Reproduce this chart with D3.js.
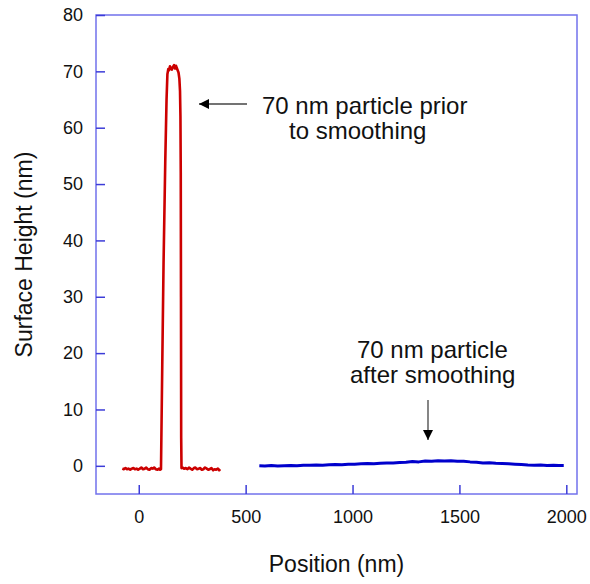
<!DOCTYPE html>
<html>
<head>
<meta charset="utf-8">
<script src="https://cdn.jsdelivr.net/npm/d3@7"></script>
<style>
  body { margin: 0; background: #fff; overflow: hidden; }
  text { font-family: Arial, "Liberation Sans", sans-serif; fill: #111; }
</style>
</head>
<body>
<svg id="chart" width="590" height="584"></svg>
<script>
// Profil avant lissage (rouge)
const redX = [-77, -70, -62, -55, -48, -40, -33, -25, -18, -10, -3, 5, 12, 20, 28, 35, 42, 50, 58, 65, 72, 80, 88, 95, 100, 104,
  110, 116, 124, 130, 134, 138, 142, 146, 150, 155, 160, 165, 170, 174, 178, 182, 186, 190, 193, 195, 196.5, 197.5, 198.5, 200,
  205, 212, 220, 228, 235, 242, 250, 258, 265, 272, 280, 288, 295, 302, 310, 318, 325, 332, 340, 348, 355, 362, 370, 376, 381];
const redY = [-0.5, -0.6, -0.4, -0.6, -0.5, -0.7, -0.5, -0.4, -0.6, -0.5, -0.7, -0.5, -0.3, -0.6, -0.5, -0.3, -0.6, -0.7, -0.4, -0.5, -0.3, -0.6, -0.7, -0.5, -0.7, -0.6,
  18, 36, 54, 65, 69.5, 70.4, 70.2, 70.9, 70.6, 70.3, 70.8, 71.1, 70.5, 71.0, 70.6, 70.2, 69.8, 68.7, 66.5, 62, 52, 30, 5, -0.4,
  -0.3, -0.5, -0.4, -0.6, -0.3, -0.5, -0.7, -0.4, -0.3, -0.6, -0.5, -0.4, -0.7, -0.6, -0.3, -0.5, -0.7, -0.6, -0.4, -0.8, -0.6, -0.7, -0.5, -0.8, -0.6];

// Profil après lissage (bleu)
const blueX = [564, 590, 620, 650, 680, 710, 740, 770, 800, 830, 860, 890, 920, 950, 980, 1010, 1040, 1070, 1100, 1130, 1160, 1190,
  1220, 1250, 1280, 1310, 1340, 1370, 1400, 1430, 1460, 1490, 1520, 1550, 1580, 1610, 1640, 1670, 1700, 1730, 1760, 1790,
  1820, 1850, 1880, 1910, 1940, 1965, 1988];
const blueY = [0.0, -0.05, 0.05, -0.05, 0.0, 0.05, 0.0, 0.1, 0.1, 0.15, 0.1, 0.2, 0.25, 0.2, 0.3, 0.3, 0.35, 0.4, 0.35, 0.45, 0.5, 0.5,
  0.6, 0.65, 0.75, 0.7, 0.85, 0.8, 0.9, 0.85, 0.9, 0.8, 0.8, 0.7, 0.65, 0.5, 0.55, 0.45, 0.4, 0.35, 0.3, 0.25,
  0.15, 0.1, 0.15, 0.05, 0.1, 0.05, 0.05];

const xTicks = [0, 500, 1000, 1500, 2000];
const yTicks = [0, 10, 20, 30, 40, 50, 60, 70, 80];

const svg = d3.select("#chart");
const margin = { top: 15, right: 13, bottom: 90, left: 96 };
const width = 590, height = 584;
const innerWidth = width - margin.left - margin.right;
const innerHeight = height - margin.top - margin.bottom;

const g = svg.append("g").attr("transform", `translate(${margin.left},${margin.top})`);

const xScale = d3.scaleLinear().domain([-200, 2050]).range([0, innerWidth]);
const yScale = d3.scaleLinear().domain([-5, 80]).range([innerHeight, 0]);

const axisColor = "#7272ec";
const tickColor = "#3c3cd8";

// Cadre
g.append("rect")
  .attr("width", innerWidth).attr("height", innerHeight)
  .attr("fill", "none").attr("stroke", axisColor).attr("stroke-width", 1.5);

// Axe X (graduations vers l'intérieur)
const xAxis = g.append("g")
  .attr("transform", `translate(0,${innerHeight})`)
  .call(d3.axisBottom(xScale).tickValues(xTicks).tickFormat(d3.format("d"))
    .tickSizeInner(-9).tickSizeOuter(0).tickPadding(16));
xAxis.select(".domain").remove();
xAxis.selectAll("line").attr("stroke", tickColor).attr("stroke-width", 1.5);
xAxis.selectAll("text").attr("font-size", 18).attr("fill", "#111")
  .attr("font-family", "Arial, 'Liberation Sans', sans-serif");

// Axe Y
const yAxis = g.append("g")
  .call(d3.axisLeft(yScale).tickValues(yTicks).tickFormat(d3.format("d"))
    .tickSizeInner(-9).tickSizeOuter(0).tickPadding(13));
yAxis.select(".domain").remove();
yAxis.selectAll("line").attr("stroke", tickColor).attr("stroke-width", 1.5);
yAxis.selectAll("text").attr("font-size", 18).attr("fill", "#111")
  .attr("font-family", "Arial, 'Liberation Sans', sans-serif");

// Courbes
const line = d3.line().x(d => xScale(d[0])).y(d => yScale(d[1]));

g.append("path")
  .datum(d3.zip(redX, redY))
  .attr("fill", "none").attr("stroke", "#cc0000").attr("stroke-width", 2.6)
  .attr("stroke-linejoin", "round")
  .attr("d", line);

g.append("path")
  .datum(d3.zip(blueX, blueY))
  .attr("fill", "none").attr("stroke", "#0000cc").attr("stroke-width", 3)
  .attr("stroke-linejoin", "round")
  .attr("d", line);

// Titres des axes
svg.append("text")
  .attr("x", margin.left + innerWidth / 2).attr("y", 572)
  .attr("text-anchor", "middle").attr("font-size", 23)
  .text("Position (nm)");

svg.append("text")
  .attr("transform", `translate(32,${margin.top + innerHeight / 2}) rotate(-90)`)
  .attr("text-anchor", "middle").attr("font-size", 23)
  .text("Surface Height (nm)");

// Annotations
svg.append("defs").append("marker")
  .attr("id", "head").attr("viewBox", "0 0 10 10")
  .attr("refX", 10).attr("refY", 5)
  .attr("markerWidth", 14).attr("markerHeight", 10)
  .attr("markerUnits", "userSpaceOnUse")
  .attr("orient", "auto")
  .append("path").attr("d", "M0,0 L10,5 L0,10 Z").attr("fill", "#000");

svg.append("line")
  .attr("x1", 247).attr("y1", 104).attr("x2", 199).attr("y2", 104)
  .attr("stroke", "#444").attr("stroke-width", 1.3)
  .attr("marker-end", "url(#head)");

svg.append("text").attr("x", 262).attr("y", 114).attr("font-size", 24).text("70 nm particle prior");
svg.append("text").attr("x", 289).attr("y", 139).attr("font-size", 24).text("to smoothing");

svg.append("text").attr("x", 357).attr("y", 358).attr("font-size", 24).text("70 nm particle");
svg.append("text").attr("x", 350).attr("y", 383).attr("font-size", 24).text("after smoothing");

svg.append("line")
  .attr("x1", 428).attr("y1", 400).attr("x2", 428).attr("y2", 440)
  .attr("stroke", "#444").attr("stroke-width", 1.3)
  .attr("marker-end", "url(#head)");
</script>
</body>
</html>
